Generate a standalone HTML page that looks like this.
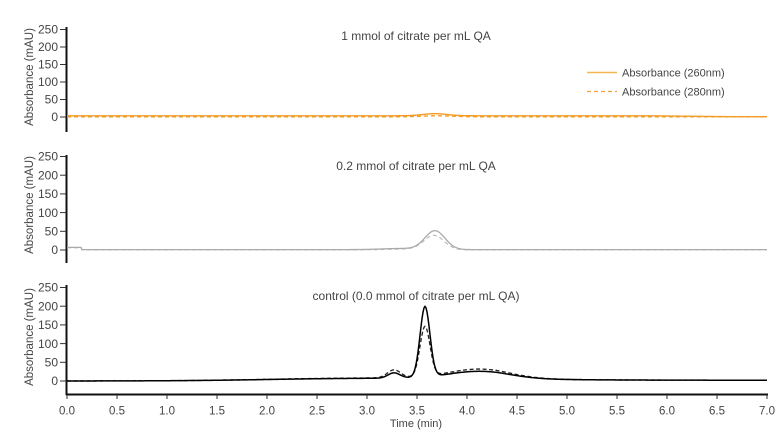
<!DOCTYPE html>
<html><head><meta charset="utf-8">
<style>
html,body{margin:0;padding:0;background:#fff;}
svg{display:block;font-family:"Liberation Sans",sans-serif;}
text{fill:#444;}
</style></head>
<body>
<svg id="s" width="780" height="439" viewBox="0 0 780 439" xmlns="http://www.w3.org/2000/svg">
<!-- titles -->
<text x="416" y="40" font-size="12" text-anchor="middle">1 mmol of citrate per mL QA</text>
<text x="416" y="170" font-size="12" text-anchor="middle">0.2 mmol of citrate per mL QA</text>
<text x="416" y="300" font-size="12" text-anchor="middle">control (0.0 mmol of citrate per mL QA)</text>
<!-- legend -->
<line x1="587" y1="72.5" x2="617" y2="72.5" stroke="#f8b650" stroke-width="1.5"/>
<text x="622" y="76.5" font-size="11">Absorbance (260nm)</text>
<line x1="587" y1="91.5" x2="617" y2="91.5" stroke="#f3a03a" stroke-width="1.2" stroke-dasharray="4,3"/>
<text x="622" y="95.5" font-size="11">Absorbance (280nm)</text>
<!-- y labels -->
<text transform="translate(33,77) rotate(-90)" font-size="11.5" text-anchor="middle">Absorbance (mAU)</text>
<text transform="translate(33,205) rotate(-90)" font-size="11.5" text-anchor="middle">Absorbance (mAU)</text>
<text transform="translate(33,337) rotate(-90)" font-size="11.5" text-anchor="middle">Absorbance (mAU)</text>
<g id="axes"></g>
<g id="series"></g>
<!-- x axis -->
<line x1="66" y1="394.5" x2="768" y2="394.5" stroke="#111" stroke-width="2"/>
<g id="xt"></g>
<text x="416" y="427" font-size="11" text-anchor="middle">Time (min)</text>
</svg>
<script>
(function(){
var NS="http://www.w3.org/2000/svg";
function el(p,n,a,t){var e=document.createElementNS(NS,n);for(var k in a)e.setAttribute(k,a[k]);if(t!==undefined)e.textContent=t;document.getElementById(p).appendChild(e);return e;}
var P=[{z:117,k:0.35,top:27,bot:132},{z:250,k:0.374,top:155,bot:263},{z:381,k:0.374,top:285,bot:395}];
P.forEach(function(p){
  el("axes","line",{x1:66.5,y1:p.top,x2:66.5,y2:p.bot,stroke:"#111","stroke-width":2});
  for(var v=0;v<=250;v+=50){
    var y=p.z-v*p.k;
    el("axes","line",{x1:60,y1:y,x2:66,y2:y,stroke:"#333","stroke-width":1});
    el("axes","text",{x:58,y:y+4.2,"font-size":12,"text-anchor":"end"},String(v));
  }
});
for(var i=0;i<=14;i++){
  var tt=i*0.5,x=67+tt*100;
  el("xt","line",{x1:x,y1:395,x2:x,y2:399,stroke:"#333","stroke-width":1});
  el("xt","text",{x:x,y:414.5,"font-size":11.5,"text-anchor":"middle"},tt.toFixed(1));
}
function g(t,m,s,a){return a*Math.exp(-(t-m)*(t-m)/(2*s*s));}
function sig(x){return 1/(1+Math.exp(-x));}
function base(t,h){var b=h*sig((t-2.0)/0.45);if(t>4.3)b=2+(b-2)*Math.exp(-(t-4.3)/0.6);return b;}
function path(f,p){var d="";for(var i=0;i<=700;i++){var t=i/100,x=67+t*100,y=p.z-f(t)*p.k;d+=(i===0?"M":"L")+x.toFixed(2)+","+y.toFixed(2);}return d;}
// top
el("series","path",{d:path(function(t){return 0.5+g(t,3.7,0.15,3);},P[0]),fill:"none",stroke:"#f39c25","stroke-width":1.3,"stroke-dasharray":"4,3"});
el("series","path",{d:path(function(t){var b=3.5;if(t>5.8)b=3.5-2.5*Math.min(1,(t-5.8)/0.8);return b+g(t,3.68,0.12,6);},P[0]),fill:"none",stroke:"#f39c25","stroke-width":1.4});
// middle
el("series","path",{d:path(function(t){return (t<0.15?6:0.5)+g(t,3.67,0.1,38)+g(t,3.4,0.2,2);},P[1]),fill:"none",stroke:"#bdbdbd","stroke-width":1.2,"stroke-dasharray":"4,3"});
el("series","path",{d:path(function(t){return (t<0.15?7:1)+g(t,3.68,0.1,50)+g(t,3.35,0.2,3);},P[1]),fill:"none",stroke:"#aaaaaa","stroke-width":1.3});
// bottom
el("series","path",{d:path(function(t){return base(t,9)+g(t,3.58,0.05,133)+g(t,3.27,0.065,21)+g(t,4.12,0.3,23);},P[2]),fill:"none",stroke:"#222","stroke-width":1.3,"stroke-dasharray":"4,2.5"});
el("series","path",{d:path(function(t){return base(t,8)+g(t,3.58,0.049,188)+g(t,3.27,0.06,14)+g(t,4.12,0.3,18);},P[2]),fill:"none",stroke:"#000","stroke-width":1.5});
})();
</script>
</body></html>
